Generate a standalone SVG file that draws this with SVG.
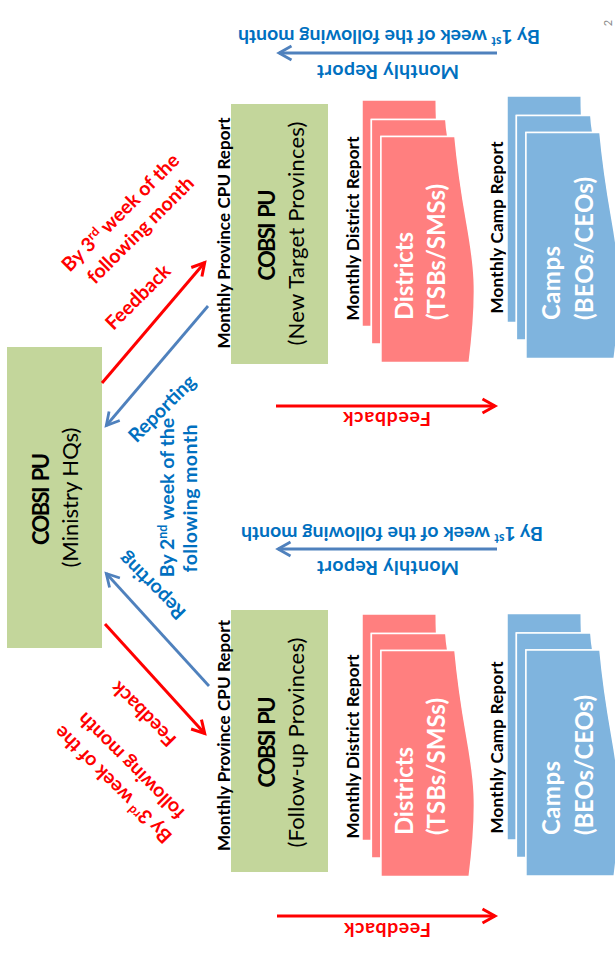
<svg xmlns="http://www.w3.org/2000/svg" width="615" height="955" viewBox="0 0 615 955">
  <style>
    text { font-family: Lato, "Liberation Sans", "DejaVu Sans", sans-serif; }
    .b { font-weight: bold; }
    .k { fill: #000000; }
    .r { fill: #ff0000; }
    .bl { fill: #0070c0; }
    .w { fill: #ffffff; }
    .s14 { font-size: 17px; }
    .s16 { font-size: 19.5px; }
    .s18 { font-size: 22px; }
    .s20 { font-size: 24px; }
    .ws { word-spacing: 3px; }
    .unit { fill: #c3d69b; }
    .ar { fill: none; stroke: #ff0000; stroke-width: 3; }
    .ab { fill: none; stroke: #4f81bd; stroke-width: 2.8; }
    .page { fill: none; stroke: #ffffff; stroke-width: 1.5; vector-effect: non-scaling-stroke; }
  </style>
  <defs>
    <marker id="tipR" markerUnits="userSpaceOnUse" viewBox="-16 -10 20 20" markerWidth="20" markerHeight="20" refX="0" refY="0" orient="auto" overflow="visible">
      <path d="M-12.5,-7 L0,0 L-12.5,7" fill="none" stroke="#ff0000" stroke-width="3"/>
    </marker>
    <marker id="tipB" markerUnits="userSpaceOnUse" viewBox="-16 -10 20 20" markerWidth="20" markerHeight="20" refX="0" refY="0" orient="auto" overflow="visible">
      <path d="M-12.5,-7 L0,0 L-12.5,7" fill="none" stroke="#4f81bd" stroke-width="2.8"/>
    </marker>
    <!-- stacked-pages shape, 21600 units; fill comes from the use element -->
    <g id="multidoc">
      <path class="page" style="fill:inherit" d="M2972,1815 L2972,0 L21600,0 L21600,14392 C20800,14392 20000,14467 20000,14467 L20000,1815 Z"/>
      <path class="page" style="fill:inherit" d="M1532,3675 L1532,1815 L20000,1815 L20000,16252 C19298,16352 18595,16634 18595,16634 L18595,3675 Z"/>
      <path class="page" style="fill:inherit" d="M0,20782 C9298,23542 9298,20053 18595,18022 L18595,3675 L0,3675 Z"/>
    </g>
  </defs>

  <rect width="615" height="955" fill="#ffffff"/>

  <!-- Ministry headquarters -->
  <g id="hq">
    <rect class="unit" x="7" y="347" width="95" height="301"/>
    <text class="b k s18 ws" transform="translate(48.5,499) rotate(-90)" text-anchor="middle" textLength="92">COBSI PU</text>
    <text class="k s18" transform="translate(77.5,497.5) rotate(-90)" text-anchor="middle" textLength="140">(Ministry HQs)</text>
  </g>

  <!-- Province unit: new target provinces -->
  <g id="pu-new">
    <rect class="unit" x="231" y="104" width="97" height="260"/>
    <text class="b k s14" transform="translate(230,233) rotate(-90)" text-anchor="middle" textLength="231">Monthly Province CPU Report</text>
    <text class="b k s18 ws" transform="translate(275,235) rotate(-90)" text-anchor="middle" textLength="91">COBSI PU</text>
    <text class="k s18" transform="translate(304,233.5) rotate(-90)" text-anchor="middle" textLength="224">(New Target Provinces)</text>
  </g>

  <!-- Province unit: follow-up provinces -->
  <g id="pu-followup">
    <rect class="unit" x="231" y="610" width="97" height="262"/>
    <text class="b k s14" transform="translate(230,735.5) rotate(-90)" text-anchor="middle" textLength="231">Monthly Province CPU Report</text>
    <text class="b k s18 ws" transform="translate(275,742) rotate(-90)" text-anchor="middle" textLength="91">COBSI PU</text>
    <text class="k s18" transform="translate(304,742.5) rotate(-90)" text-anchor="middle" textLength="210">(Follow-up Provinces)</text>
  </g>

  <!-- Districts, new target provinces -->
  <g id="districts-new">
    <text class="b k s14" transform="translate(358.5,228.5) rotate(-90)" text-anchor="middle" textLength="184">Monthly District Report</text>
    <use href="#multidoc" fill="#ff7f7f" transform="matrix(0,-0.012153,0.005157,0,362,362.5)"/>
    <text class="b w s20" transform="translate(413,320) rotate(-90)" textLength="88">Districts</text>
    <text class="b w s20" transform="translate(445,320) rotate(-90)" textLength="136">(TSBs/SMSs)</text>
  </g>

  <!-- Districts, follow-up provinces -->
  <g id="districts-followup">
    <text class="b k s14" transform="translate(358.5,746.5) rotate(-90)" text-anchor="middle" textLength="184">Monthly District Report</text>
    <use href="#multidoc" fill="#ff7f7f" transform="matrix(0,-0.012153,0.005157,0,362,876.5)"/>
    <text class="b w s20" transform="translate(413,835) rotate(-90)" textLength="88">Districts</text>
    <text class="b w s20" transform="translate(445,835) rotate(-90)" textLength="137">(TSBs/SMSs)</text>
  </g>

  <!-- Camps, new target provinces -->
  <g id="camps-new">
    <text class="b k s14" transform="translate(502.5,227.5) rotate(-90)" text-anchor="middle" textLength="172">Monthly Camp Report</text>
    <use href="#multidoc" fill="#7fb4de" transform="matrix(0,-0.012153,0.005157,0,507,358.5)"/>
    <text class="b w s20" transform="translate(560,320) rotate(-90)" textLength="74">Camps</text>
    <text class="b w s20" transform="translate(592.5,320) rotate(-90)" textLength="143">(BEOs/CEOs)</text>
  </g>

  <!-- Camps, follow-up provinces -->
  <g id="camps-followup">
    <text class="b k s14" transform="translate(502.5,747.5) rotate(-90)" text-anchor="middle" textLength="172">Monthly Camp Report</text>
    <use href="#multidoc" fill="#7fb4de" transform="matrix(0,-0.012153,0.005157,0,507,876)"/>
    <text class="b w s20" transform="translate(560,835) rotate(-90)" textLength="74">Camps</text>
    <text class="b w s20" transform="translate(592.5,835) rotate(-90)" textLength="140">(BEOs/CEOs)</text>
  </g>

  <!-- Connectors -->
  <g id="connectors">
    <line class="ar" x1="102" y1="383" x2="204.7" y2="262.5" marker-end="url(#tipR)"/>
    <line class="ab" x1="208" y1="306" x2="106.3" y2="425.5" marker-end="url(#tipB)"/>
    <line class="ab" x1="209" y1="686" x2="106.3" y2="573.5" marker-end="url(#tipB)"/>
    <line class="ar" x1="105" y1="624" x2="204.7" y2="733.5" marker-end="url(#tipR)"/>
    <line class="ab" x1="497" y1="53" x2="279" y2="53" marker-end="url(#tipB)"/>
    <line class="ab" x1="497" y1="549" x2="278" y2="549" marker-end="url(#tipB)"/>
    <line class="ar" x1="276" y1="406" x2="495" y2="406" marker-end="url(#tipR)"/>
    <line class="ar" x1="277" y1="916" x2="495" y2="916" marker-end="url(#tipR)"/>
  </g>

  <!-- Connector labels -->
  <g id="labels">
    <text class="b r s16" transform="translate(138,297) rotate(-45)" text-anchor="middle" dy="0.34em">Feedback</text>
    <text class="b r s16" transform="translate(120.5,212.5) rotate(-45)" text-anchor="middle" dy="0.34em">By 3<tspan font-size="12.5" dy="-7">rd</tspan><tspan dy="7"> week of the</tspan></text>
    <text class="b r s16" transform="translate(140.5,230) rotate(-45)" text-anchor="middle" dy="0.34em">following month</text>
    <text class="b bl s16" transform="translate(162,408.5) rotate(-45)" text-anchor="middle" dy="0.34em">Reporting</text>

    <text class="b bl s16" transform="translate(174,497.5) rotate(-90)" text-anchor="middle">By 2<tspan font-size="12.5" dy="-7">nd</tspan><tspan dy="7"> week of the</tspan></text>
    <text class="b bl s16" transform="translate(197,498.5) rotate(-90)" text-anchor="middle" textLength="148">following month</text>

    <text class="b bl s16" transform="translate(152,586) rotate(-135)" text-anchor="middle" dy="0.34em">Reporting</text>
    <text class="b r s16" transform="translate(143.5,714) rotate(-135)" text-anchor="middle" dy="0.34em">Feedback</text>
    <text class="b r s16" transform="translate(113,784.5) rotate(-135)" text-anchor="middle" dy="0.34em">By 3<tspan font-size="12.5" dy="-7">rd</tspan><tspan dy="7"> week of the</tspan></text>
    <text class="b r s16" transform="translate(131,766) rotate(-135)" text-anchor="middle" dy="0.34em">following month</text>

    <text class="b bl s16" transform="translate(540,29.5) rotate(180)">By 1<tspan font-size="12.5" dy="-7">st</tspan><tspan dy="7"> week of the following month</tspan></text>
    <text class="b bl s16" transform="translate(459,65) rotate(180)" textLength="142">Monthly Report</text>
    <text class="b bl s16" transform="translate(543,527) rotate(180)">By 1<tspan font-size="12.5" dy="-7">st</tspan><tspan dy="7"> week of the following month</tspan></text>
    <text class="b bl s16" transform="translate(459,560.5) rotate(180)" textLength="142">Monthly Report</text>

    <text class="b r s16" transform="translate(431,411.5) rotate(180)" textLength="88">Feedback</text>
    <text class="b r s16" transform="translate(431,923) rotate(180)" textLength="87">Feedback</text>
  </g>

  <text transform="translate(612,23) rotate(-90)" text-anchor="middle" font-size="11" fill="#8c8c8c">2</text>
</svg>
